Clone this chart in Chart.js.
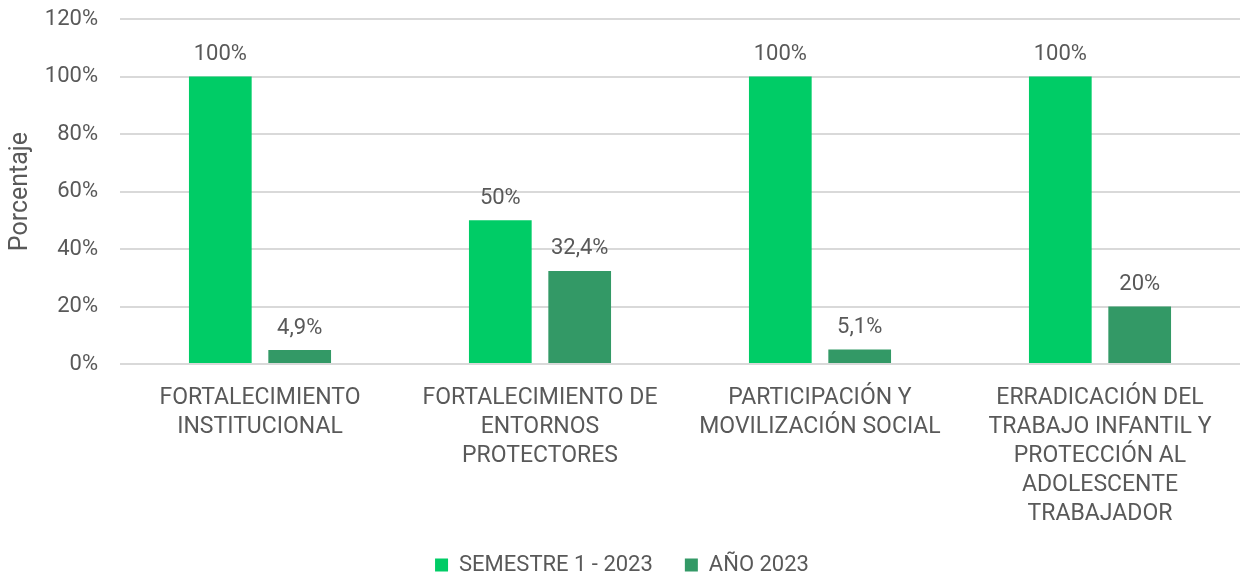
<!DOCTYPE html>
<html>
<head>
<meta charset="utf-8">
<script src="https://cdn.jsdelivr.net/npm/chart.js@4"></script>
<style>
  html, body { margin: 0; padding: 0; background: #fff; }
  #wrap { width: 1249px; height: 575px; position: relative; }
</style>
</head>
<body>
<div id="wrap"><canvas id="canvas"></canvas></div>
<script>
const categories = [
  ["FORTALECIMIENTO", "INSTITUCIONAL"],
  ["FORTALECIMIENTO DE", "ENTORNOS", "PROTECTORES"],
  ["PARTICIPACIÓN Y", "MOVILIZACIÓN SOCIAL"],
  ["ERRADICACIÓN DEL", "TRABAJO INFANTIL Y", "PROTECCIÓN AL", "ADOLESCENTE", "TRABAJADOR"],
];
const semestre1 = [100, 50, 100, 100];
const anio2023 = [4.9, 32.4, 5.1, 20];
const seriesNames = ["SEMESTRE 1 - 2023", "AÑO 2023"];

const textColor = "#595959";
const fmt = v => String(v).replace(".", ",") + "%";

const barLabels = {
  id: "barLabels",
  afterDatasetsDraw(chart) {
    const ctx = chart.ctx;
    ctx.save();
    ctx.font = "22px Roboto";
    ctx.fillStyle = textColor;
    ctx.textAlign = "center";
    ctx.textBaseline = "bottom";
    chart.data.datasets.forEach((ds, i) => {
      chart.getDatasetMeta(i).data.forEach((bar, j) => {
        ctx.fillText(fmt(ds.data[j]), bar.x, bar.y - 11);
      });
    });
    ctx.restore();
  },
};

const myChart = new Chart("canvas", {
  type: "bar",
  data: {
    labels: categories,
    datasets: [
      {
        label: seriesNames[0],
        data: semestre1,
        backgroundColor: "#00cc66",
        barPercentage: 0.79,
        categoryPercentage: 0.567,
      },
      {
        label: seriesNames[1],
        data: anio2023,
        backgroundColor: "#339966",
        barPercentage: 0.79,
        categoryPercentage: 0.567,
      },
    ],
  },
  options: {
    responsive: true,
    maintainAspectRatio: false,
    animation: false,
    layout: { padding: { top: 0, right: 9, bottom: -11, left: 4 } },
    plugins: {
      legend: {
        position: "bottom",
        labels: {
          color: textColor,
          font: { family: "Roboto", size: 22 },
          boxWidth: 13,
          boxHeight: 13,
          padding: 32,
        },
      },
      tooltip: { enabled: false },
    },
    scales: {
      x: {
        grid: { display: false },
        border: { display: false },
        afterFit: s => { s.height -= 19; },
        ticks: {
          color: textColor,
          font: { family: "Roboto", size: 23, lineHeight: 1.26 },
          maxRotation: 0,
          autoSkip: false,
          padding: 12,
        },
      },
      y: {
        min: 0,
        max: 120,
        afterFit: s => { s.width = 116; s.paddingTop = 19; },
        ticks: {
          stepSize: 20,
          color: textColor,
          font: { family: "Roboto", size: 22 },
          padding: 22,
          callback: v => v + "%",
        },
        grid: { color: "#d9d9d9", lineWidth: 2, drawTicks: false },
        border: { display: false },
        title: {
          display: true,
          text: "Porcentaje",
          color: textColor,
          font: { family: "Roboto", size: 25 },
          padding: { top: 2, bottom: 0 },
        },
      },
    },
  },
  plugins: [barLabels],
});
</script>
</body>
</html>
